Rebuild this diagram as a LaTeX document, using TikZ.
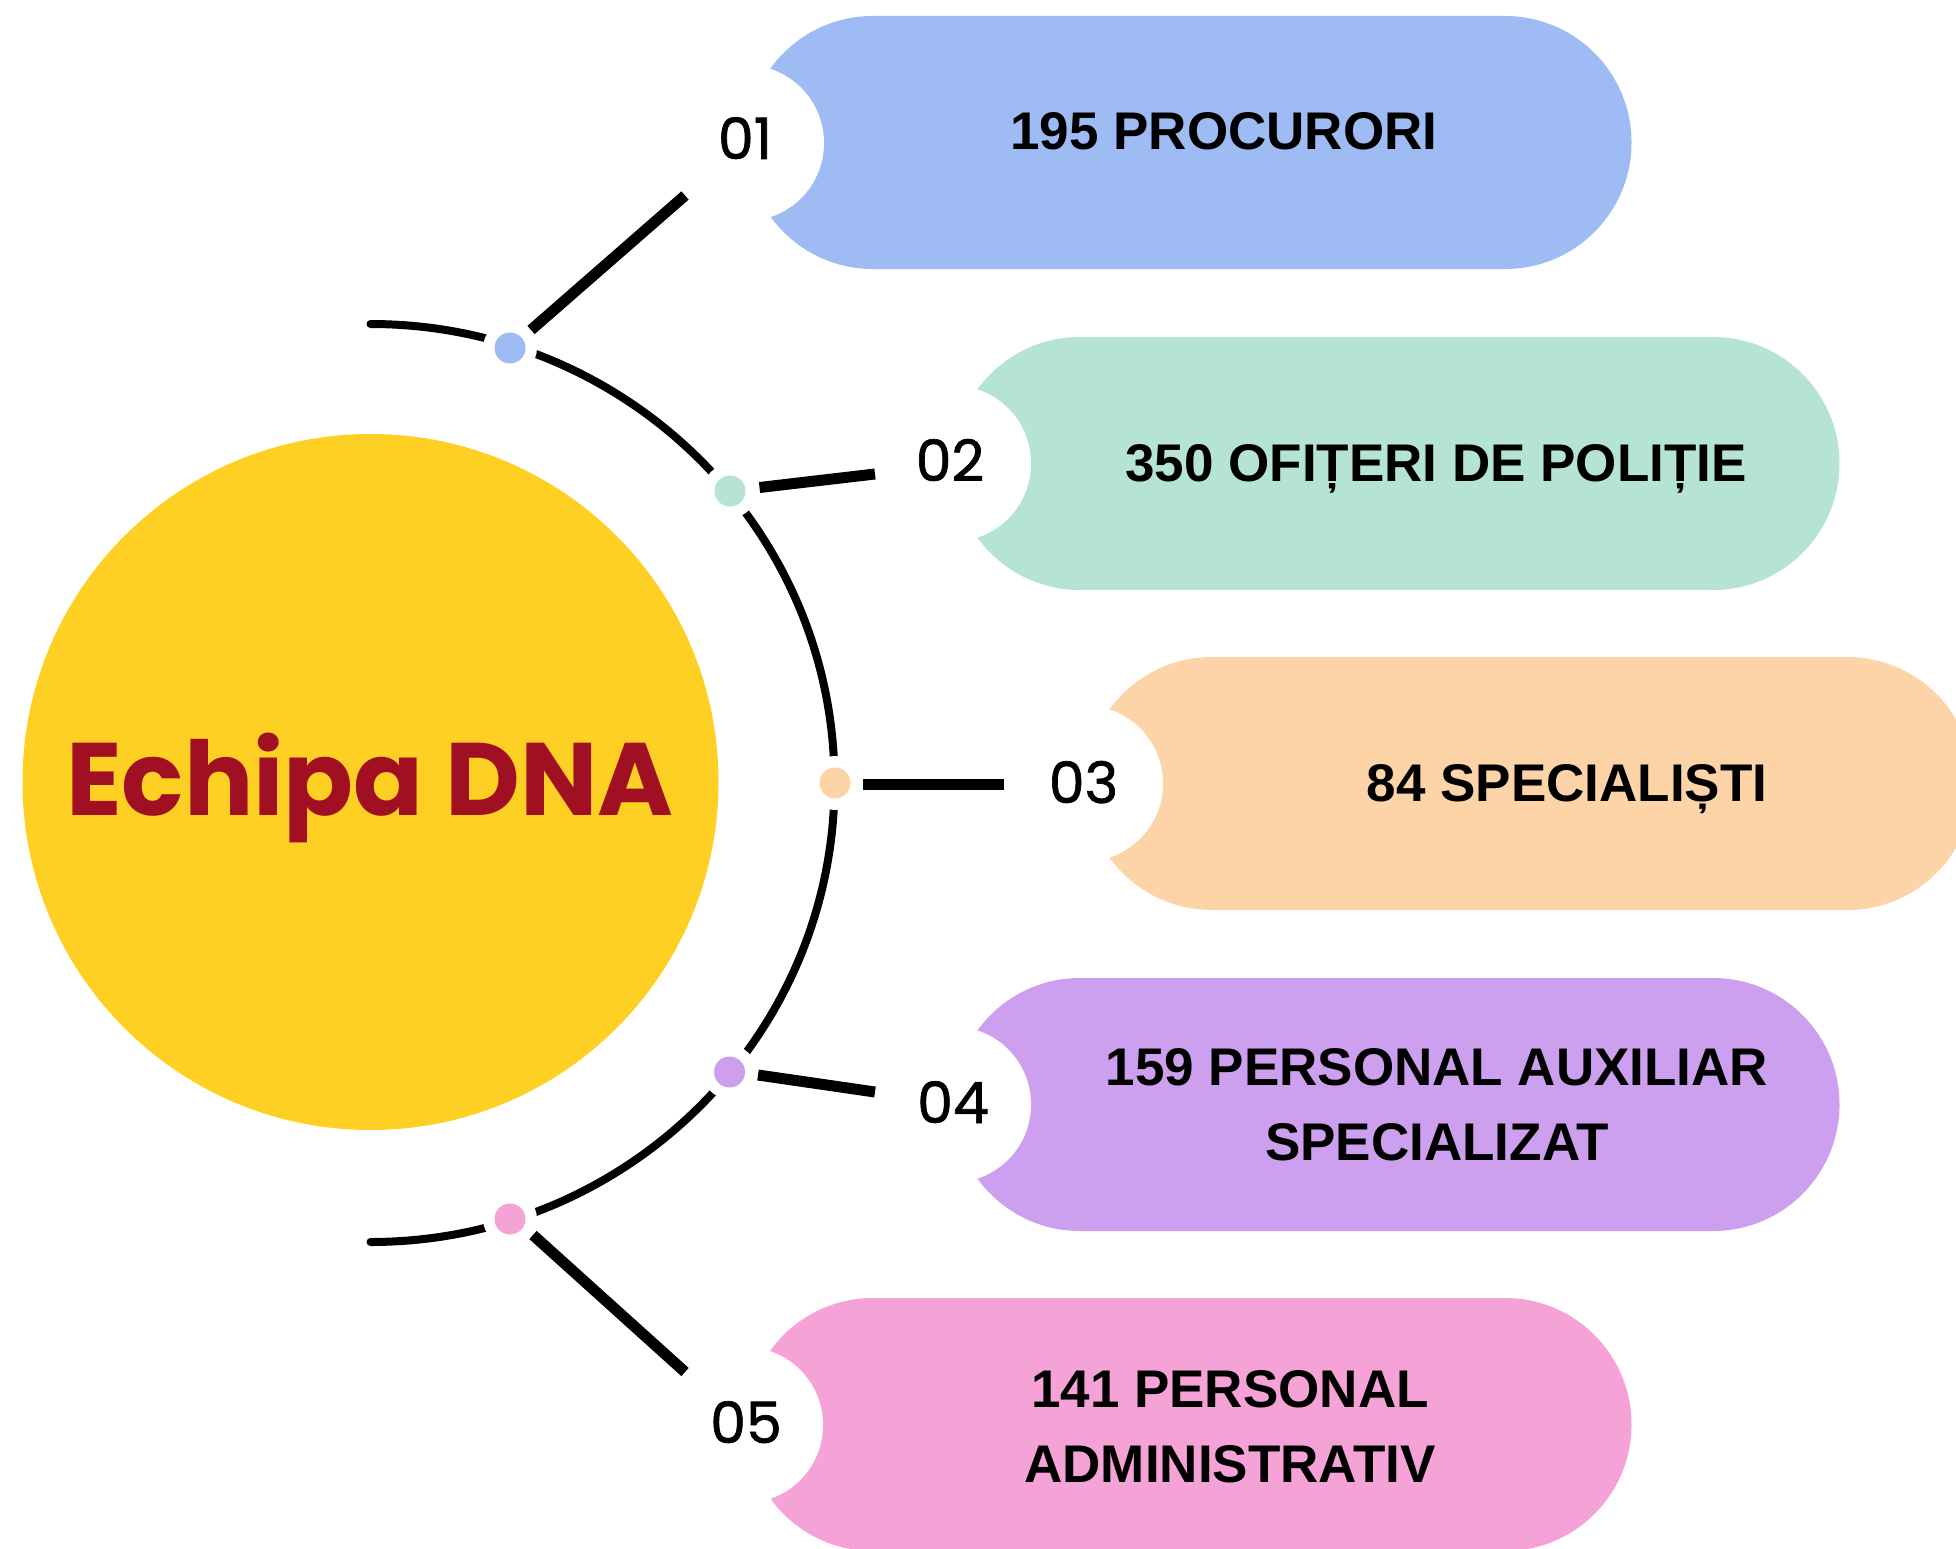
\documentclass[tikz,border=0pt]{standalone}
\usepackage{fontspec}
\setmainfont{Liberation Sans}
\newfontfamily\popfont{Poppins}
\newfontfamily\popnum{Poppins}[FakeBold=1.2]
\definecolor{hubyellow}{HTML}{FED024}
\definecolor{dnared}{HTML}{A10F22}
\definecolor{cA}{HTML}{9FBBF3}
\definecolor{cB}{HTML}{B5E4D3}
\definecolor{cC}{HTML}{FDD4A8}
\definecolor{cD}{HTML}{CCA0EE}
\definecolor{cE}{HTML}{F5A3D7}
\tikzset{
  pill/.style={rounded corners=126.4pt},
  notch/.style={circle, fill=white, minimum size=156pt, inner sep=0pt},
  dotgap/.style={circle, fill=white, minimum size=54pt, inner sep=0pt},
  dotc/.style={circle, minimum size=31pt, inner sep=0pt},
  spoke/.style={line width=11pt},
  ring/.style={line width=8pt, line cap=round},
  num/.style={font=\popnum\fontsize{57}{60}\selectfont, anchor=base, inner sep=0pt},
  itemtext/.style={font=\bfseries\fontsize{53}{75}\selectfont, align=center, inner sep=0pt},
}
\begin{document}
\begin{tikzpicture}[x=1pt,y=-1pt]
\useasboundingbox (0,0) rectangle (1956,1549);
\begin{scope}
\clip (0,0) rectangle (1956,1549);
% pills
\fill[cA, pill] (746.5,16) rectangle (1631.5,269);
\fill[cB, pill] (953.5,337) rectangle (1839.5,590);
\fill[cC, pill] (1085.5,657) rectangle (1973.5,910);
\fill[cD, pill] (953.5,978) rectangle (1839.5,1231);
\fill[cE, pill] (746.5,1298) rectangle (1631.5,1551);
% notches
\node[notch] (n1) at (746,143) {};
\node[notch] (n2) at (953,463.5) {};
\node[notch] (n3) at (1085,783.5) {};
\node[notch] (n4) at (953,1104.5) {};
\node[notch] (n5) at (745,1425) {};
\end{scope}
% hub
\node[circle, fill=hubyellow, minimum size=696pt, inner sep=0pt] (hub) at (370.5,782) {};
\node[font=\popfont\bfseries\fontsize{103}{110}\selectfont, text=dnared, anchor=base, inner sep=0pt] (title) at (370,815) {Echipa DNA};
% ring arc
\coordinate (arcstart) at (370.5,1242);
\draw[ring] (arcstart) arc[start angle=90, end angle=-90, x radius=464, y radius=459];
% gaps and dots
\node[dotgap] (g1) at (510,348) {};
\node[dotgap] (g2) at (730,491) {};
\node[dotgap] (g3) at (835,783) {};
\node[dotgap] (g4) at (729.5,1072) {};
\node[dotgap] (g5) at (510,1219) {};
\node[dotc, fill=cA] (d1) at (g1) {};
\node[dotc, fill=cB] (d2) at (g2) {};
\node[dotc, fill=cC] (d3) at (g3) {};
\node[dotc, fill=cD] (d4) at (g4) {};
\node[dotc, fill=cE] (d5) at (g5) {};
% spokes
\coordinate (s1a) at (531,330); \coordinate (s1b) at (685,195.5);
\coordinate (s2a) at (759.5,487.5); \coordinate (s2b) at (875,474);
\coordinate (s3a) at (863,784.5); \coordinate (s3b) at (1004,784.5);
\coordinate (s4a) at (758,1075); \coordinate (s4b) at (875,1092);
\coordinate (s5a) at (533,1235); \coordinate (s5b) at (685,1372);
\draw[spoke] (s1a) -- (s1b);
\draw[spoke] (s2a) -- (s2b);
\draw[spoke] (s3a) -- (s3b);
\draw[spoke] (s4a) -- (s4b);
\draw[spoke] (s5a) -- (s5b);
% numbers
\node[num] (k1) at (745,159) {01};
\node[num] (k2) at (950,481) {02};
\node[num] (k3) at (1083.5,803) {03};
\node[num] (k4) at (953,1123) {04};
\node[num] (k5) at (746,1443) {05};
% texts
\node[itemtext, anchor=base] (t1) at (1224,150) {195 PROCURORI};
\node[itemtext, anchor=base] (t2) at (1436,481) {350 OFIȚERI DE POLIȚIE};
\node[itemtext, anchor=base] (t3) at (1567,801) {84 SPECIALIȘTI};
\node[itemtext] (t4) at (1437,1105) {159 PERSONAL AUXILIAR\\SPECIALIZAT};
\node[itemtext] (t5) at (1230,1427) {141 PERSONAL\\ADMINISTRATIV};
\end{tikzpicture}
\end{document}
